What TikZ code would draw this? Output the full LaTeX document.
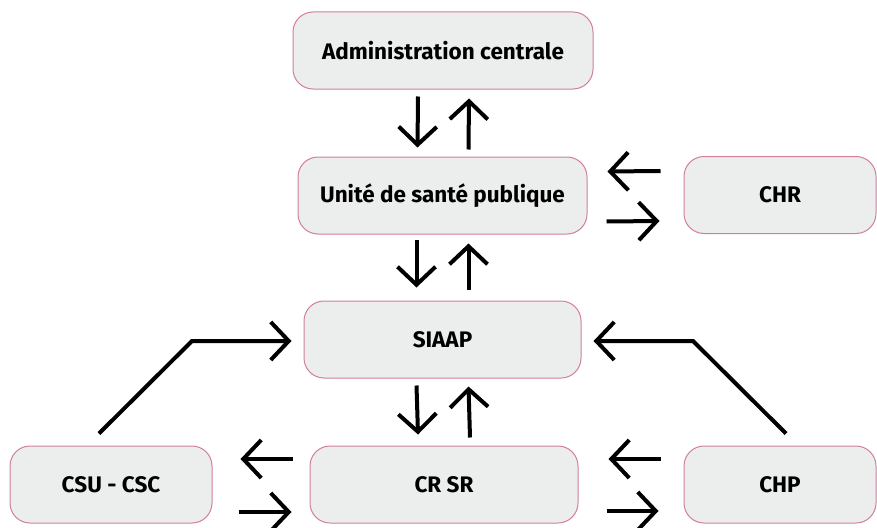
\documentclass[tikz,border=0pt]{standalone}
\usepackage{fontspec}
\setmainfont{Fira Sans}
\usetikzlibrary{arrows.meta}
\definecolor{boxfill}{HTML}{ECEDED}
\definecolor{boxline}{HTML}{D07FA0}
\tikzset{
  unit/.style={draw=boxline, fill=boxfill, line width=1pt, rounded corners=20pt,
    minimum height=77pt, inner sep=0pt, font=\fontsize{22.5}{27}\selectfont\bfseries},
  arr/.style={line width=4pt, -{Straight Barb[length=18pt,width=38pt,line width=4pt]}}
}
\begin{document}
\begin{tikzpicture}[x=1pt,y=-1pt]
\useasboundingbox (0,0) rectangle (877,527);
\node[unit, minimum width=300pt] (admin) at (443,50.5) {Administration centrale};
\node[unit, minimum width=289pt] (usp) at (442.5,195.5) {Unité de santé publique};
\node[unit, minimum width=192pt] (chr) at (780,195) {CHR};
\node[unit, minimum width=277pt] (siaap) at (442.5,339.5) {SIAAP};
\node[unit, minimum width=202pt] (csu) at (111,484.5) {CSU - CSC};
\node[unit, minimum width=268pt] (crsr) at (444,484.5) {CR SR};
\node[unit, minimum width=192pt] (chp) at (780,484.5) {CHP};

% vertical pairs
\draw[arr] ([xshift=-25pt,yshift=-7pt]admin.south) -- ([xshift=-25pt,yshift=9pt]usp.north);
\draw[arr] ([xshift=26pt,yshift=7pt]usp.north) -- ([xshift=26pt,yshift=-9pt]admin.south);
\draw[arr] ([xshift=-26pt,yshift=-5pt]usp.south) -- ([xshift=-26pt,yshift=13pt]siaap.north);
\draw[arr] ([xshift=26pt,yshift=11pt]siaap.north) -- ([xshift=26pt,yshift=-9pt]usp.south);
\draw[arr] ([xshift=-26pt,yshift=-7pt]siaap.south) -- ([xshift=-26pt,yshift=11pt]crsr.north);
\draw[arr] ([xshift=26pt,yshift=8pt]crsr.north) -- ([xshift=26pt,yshift=-8pt]siaap.south);

% horizontal pairs
\draw[arr] ([xshift=-23pt,yshift=24pt]chr.west) -- ([xshift=20pt,yshift=24pt]usp.east);
\draw[arr] ([xshift=19pt,yshift=-26pt]usp.east) -- ([xshift=-24pt,yshift=-26pt]chr.west);
\draw[arr] ([xshift=-17pt,yshift=25.5pt]crsr.west) -- ([xshift=28pt,yshift=25.5pt]csu.east);
\draw[arr] ([xshift=26pt,yshift=-27.5pt]csu.east) -- ([xshift=-18pt,yshift=-27.5pt]crsr.west);
\draw[arr] ([xshift=-23pt,yshift=25.5pt]chp.west) -- ([xshift=30pt,yshift=25.5pt]crsr.east);
\draw[arr] ([xshift=28pt,yshift=-26.5pt]crsr.east) -- ([xshift=-25pt,yshift=-26.5pt]chp.west);

% bent links into SIAAP
\coordinate (lbend) at (192,341);
\coordinate (rbend) at (693,341);
\draw[arr] ([xshift=-12pt,yshift=12pt]csu.north) -- (lbend) -- ([xshift=-12pt,yshift=-1.5pt]siaap.west);
\draw[arr] ([xshift=6pt,yshift=12pt]chp.north) -- (rbend) -- ([xshift=12pt,yshift=-1.5pt]siaap.east);
\end{tikzpicture}
\end{document}
